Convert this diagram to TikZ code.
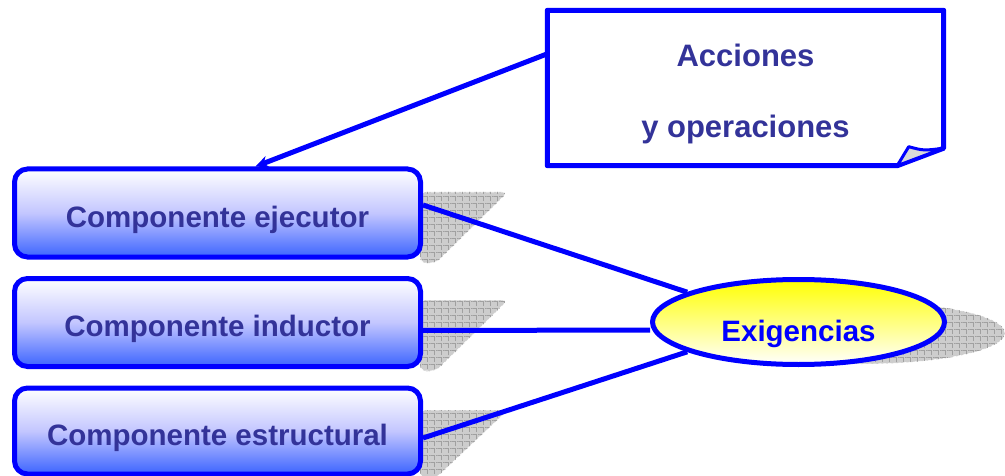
\documentclass[tikz,border=0pt]{standalone}
\usepackage{fontspec}
\setmainfont{Liberation Sans}
\usetikzlibrary{shapes.geometric,arrows.meta,calc,patterns.meta,backgrounds}
\definecolor{txtblue}{RGB}{51,51,153}
\definecolor{boxbot}{RGB}{60,100,255}
\definecolor{boxmid}{RGB}{195,198,255}
\definecolor{shadefill}{RGB}{205,205,205}
\definecolor{gridline}{RGB}{160,160,160}
\tikzset{
  compbox/.style={draw=blue, line width=5pt, rounded corners=13pt,
    top color=white, bottom color=boxbot, middle color=boxmid,
    minimum width=406pt, minimum height=88pt, inner sep=0pt,
    text height=34pt, text depth=6pt,
    text=txtblue, font=\fontsize{29.5}{34}\selectfont\bfseries},
  conn/.style={draw=blue, line width=5pt},
  shadowshape/.style={fill=shadefill, draw=white, densely dashed, line width=0.6pt,
    postaction={pattern={Hatch[distance=7pt,angle=0,line width=0.5pt]}, pattern color=gridline}},
  ellnode/.style={ellipse, draw=blue, line width=5pt, top color=yellow, bottom color=white,
    minimum width=292pt, minimum height=85pt, inner sep=0pt,
    text height=45pt, text depth=6pt,
    text=blue, font=\fontsize{29.5}{34}\selectfont\bfseries},
  notebox/.style={minimum width=396pt, minimum height=155pt, inner sep=0pt},
  notetext/.style={align=center, inner sep=0pt,
    text=txtblue, font=\fontsize{31}{71}\selectfont\bfseries}
}
\begin{document}
\begin{tikzpicture}[x=1pt,y=-1pt]
\useasboundingbox (0,0) rectangle (1005,476);
% component boxes
\node[compbox] (ej) at (217.5,213) {Componente ejecutor};
\node[compbox] (ind) at (217.5,322.5) {Componente inductor};
\node[compbox, minimum height=86pt] (es) at (217.5,431) {Componente estructural};
% ellipse
\node[ellnode] (ex) at (798.5,322) {Exigencias};
\begin{scope}[on background layer]
  % shadows
  \draw[shadowshape, rounded corners=6pt] (420,192) -- (508,192) -- (436,263) -- (420,263) -- cycle;
  \draw[shadowshape, rounded corners=6pt] (420,300) -- (508,300) -- (436,371) -- (420,371) -- cycle;
  \draw[shadowshape, rounded corners=6pt] (420,410) -- (508,410) -- (436,478) -- (420,478) -- cycle;
  \draw[shadowshape] (862,333) ellipse [x radius=143pt, y radius=31pt];
  % connectors
  \draw[conn] ($(ej.east)+(0,-8)$) -- (ex.165);
  \draw[conn] ($(ind.east)+(0,8)$) -- ($(ex.west)+(0,8)$);
  \draw[conn] ($(es.east)+(0,7)$) -- (ex.195);
\end{scope}
% note box
\node[notebox] (acc) at (745.5,88) {};
\node[notetext] (acct) at ($(acc.center)+(0,6)$) {Acciones\\y operaciones};
\draw[blue, line width=5pt, line join=round]
  (acc.north west) -- (acc.north east) -- ($(acc.south east)+(0,-17.5)$)
  -- ($(acc.south east)+(-46.5,0)$) -- (acc.south west) -- cycle;
\draw[blue, line width=3pt, fill=gray!30, line join=round]
  ($(acc.south east)+(-46.5,0)$) -- ($(acc.south east)+(-35,-19)$)
  .. controls ($(acc.south east)+(-20,-15)$) .. ($(acc.south east)+(0,-17.5)$) -- cycle;
% arrow
\coordinate (aS) at ($(acc.north west)!0.28!(acc.south west)$);
\coordinate (aE) at ($(ej.north)+(38,0)$);
\draw[conn, -{Stealth[length=13pt,width=12pt]}] (aS) -- (aE);
\end{tikzpicture}
\end{document}
